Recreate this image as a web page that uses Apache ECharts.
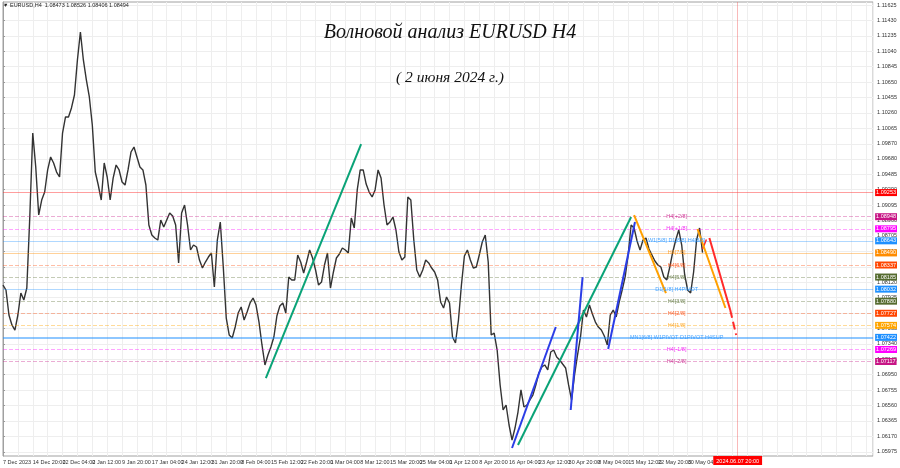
<!DOCTYPE html>
<html><head><meta charset="utf-8">
<script src="https://cdn.jsdelivr.net/npm/echarts@6/dist/echarts.min.js"></script>
<style>html,body{margin:0;padding:0;background:#fff}#c{width:900px;height:468px}</style>
</head><body><div id="c"></div>
<script>
// H4 closes (one value per ~3 bars), EURUSD, 7 Dec 2023 – 31 May 2024
const closes = [
1.08084,1.08021,1.07705,1.07579,1.07515,1.07705,1.07983,1.07895,1.08046,1.08944,
1.10006,1.09577,1.08970,1.09159,1.09260,1.09539,1.09703,1.09627,1.09513,1.09450,
1.10006,1.10209,1.10209,1.10323,1.10487,1.10930,1.11284,1.10930,1.10677,1.10462,
1.10108,1.09513,1.09349,1.09159,1.09627,1.09450,1.09159,1.09437,1.09602,1.09539,
1.09387,1.09349,1.09539,1.09766,1.09829,1.09703,1.09577,1.09539,1.09349,1.08843,
1.08717,1.08679,1.08653,1.08906,1.08818,1.08906,1.08995,1.08957,1.08843,1.08363,
1.08995,1.09096,1.08843,1.08527,1.08590,1.08565,1.08400,1.08299,1.08375,1.08438,
1.08489,1.08059,1.08653,1.08881,1.08312,1.07667,1.07452,1.07414,1.07553,1.07730,
1.07806,1.07642,1.07743,1.07857,1.07920,1.07831,1.07616,1.07326,1.07073,1.07199,
1.07300,1.07427,1.07692,1.07819,1.07857,1.07730,1.08186,1.08148,1.08148,1.08464,
1.08375,1.08236,1.08375,1.08527,1.08426,1.08274,1.08084,1.08122,1.08337,1.08489,
1.08046,1.08249,1.08426,1.08476,1.08552,1.08527,1.08489,1.08932,1.08805,1.09286,
1.09539,1.09539,1.09361,1.09260,1.09197,1.09286,1.09539,1.09437,1.09096,1.08843,
1.08881,1.08944,1.08780,1.08502,1.08400,1.08438,1.09197,1.09159,1.08653,1.08274,
1.08186,1.08274,1.08400,1.08363,1.08299,1.08249,1.08148,1.07869,1.07793,1.07933,
1.07857,1.07427,1.07351,1.07642,1.08084,1.08451,1.08527,1.08400,1.08299,1.08312,
1.08464,1.08628,1.08717,1.08375,1.07452,1.07477,1.07262,1.06820,1.06504,1.06567,
1.06314,1.06124,1.06276,1.06478,1.06757,1.06542,1.06567,1.06630,1.06693,1.06820,
1.06972,1.07047,1.07073,1.07010,1.07237,1.07262,1.07174,1.07136,1.07085,1.07035,
1.06820,1.06630,1.06946,1.07199,1.07427,1.07768,1.07680,1.07831,1.07718,1.07616,
1.07553,1.07515,1.07439,1.07326,1.07705,1.07768,1.07680,1.07869,1.08021,1.08186,
1.08464,1.08843,1.08805,1.08641,1.08527,1.08653,1.08679,1.08540,1.08464,1.08388,
1.08337,1.08312,1.08186,1.08148,1.08312,1.08502,1.08653,1.08780,1.08590,1.08211,
1.08021,1.07983,1.08249,1.08653,1.08805,1.08494
];
const timeLabels = ['7 Dec 2023','14 Dec 20:00','22 Dec 04:00','2 Jan 12:00','9 Jan 20:00','17 Jan 04:00',
'24 Jan 12:00','31 Jan 20:00','8 Feb 04:00','15 Feb 12:00','22 Feb 20:00','1 Mar 04:00','8 Mar 12:00',
'15 Mar 20:00','25 Mar 04:00','1 Apr 12:00','8 Apr 20:00','16 Apr 04:00','23 Apr 12:00','30 Apr 20:00',
'8 May 04:00','15 May 12:00','22 May 20:00','30 May 04:00'];
const priceTicks = ['1.11625','1.11430','1.11235','1.11040','1.10845','1.10650','1.10455','1.10260','1.10065',
'1.09870','1.09680','1.09485','1.09290','1.09095','1.08900','1.08705','1.08510','1.08315','1.08120','1.07925',
'1.07730','1.07535','1.07340','1.07145','1.06950','1.06755','1.06560','1.06365','1.06170','1.05975'];
const levelValues = [1.09253,1.08948,1.08795,1.08643,1.08490,1.08337,1.08185,1.08032,1.07880,1.07727,1.07574,1.07422,1.07269,1.07117];
const levelTexts = ['','H4[+2/8]','H4[+1/8]','W1[5/8] D1[8/8] H4[8/8]','H4[7/8]','H4[6/8]','H4[5/8]','D1[1/8] H4PIVOT',
'H4[3/8]','H4[2/8]','H4[1/8]','MN1[6/8] W1PIVOT D1PIVOT H4SUP','H4[-1/8]','H4[-2/8]'];
const headerText = '▼ EURUSD,H4  1.08473 1.08526 1.08406 1.08494';
const titleText = 'Волновой анализ EURUSD H4';
const subTitleText = '( 2 июня 2024 г.)';
// wave lines: [bar group index, price]
const greenWave1 = [[88.3,1.06908],[120.3,1.09867]];
const greenWave2 = [[173,1.06061],[211,1.08944]];
const blueWave1 = [[171,1.06023],[185.7,1.07553]];
const blueWave2 = [[190.7,1.06504],[194.7,1.08185]];
const blueWave3 = [[203.3,1.07275],[212.3,1.08881]];
const orangeWave1 = [[212,1.08969],[222.7,1.07983]];
const orangeWave2 = [[233.3,1.08792],[242.7,1.07793]];
const redForecast = [[237.3,1.08679],[244.3,1.07768]];
const redForecastDashed = [[244.3,1.07768],[246.3,1.07452]];
const redUpTick = [[235,1.08539],[236.3,1.08660]];
const cursorIndex = 246.8;
const cursorLabel = '2024.06.07 20:00';
const levelTextIndex = 226.3;

// styles (kept apart from data)
const levelStyles = [
 {line:'rgba(255,40,40,0.45)', type:'solid', box:'#ff0000', text:'#ff0000'},
 {line:'rgba(199,21,133,0.35)', type:'dashed', box:'#c71585', text:'#c71585'},
 {line:'rgba(255,0,255,0.35)', type:'dashed', box:'#ff00ff', text:'#ee00ee'},
 {line:'rgba(30,144,255,0.35)', type:'solid', box:'#1e90ff', text:'#1e90ff'},
 {line:'rgba(255,140,0,0.4)', type:'solid', box:'#ff8c00', text:'#ff8c00'},
 {line:'rgba(255,69,0,0.35)', type:'dashed', box:'#ff4500', text:'#ff4500'},
 {line:'rgba(85,107,47,0.35)', type:'dashed', box:'#556b2f', text:'#556b2f'},
 {line:'rgba(30,144,255,0.35)', type:'solid', box:'#1e90ff', text:'#1e90ff'},
 {line:'rgba(85,107,47,0.35)', type:'dashed', box:'#556b2f', text:'#556b2f'},
 {line:'rgba(255,69,0,0.35)', type:'dashed', box:'#ff4500', text:'#ff4500'},
 {line:'rgba(255,165,0,0.4)', type:'dashed', box:'#ffa500', text:'#ff9900'},
 {line:'rgba(30,144,255,0.5)', type:'solid', box:'#1e90ff', text:'#1e90ff', width:2},
 {line:'rgba(255,0,255,0.35)', type:'dashed', box:'#ff00ff', text:'#ee00ee'},
 {line:'rgba(199,21,133,0.35)', type:'dashed', box:'#c71585', text:'#c71585'}
];
const smallFont = {fontFamily:'Liberation Sans', fontSize:5.5};

function waveSeries(data, color){
  return {type:'line', data:data, showSymbol:false, symbol:'none', silent:true, z:6,
    lineStyle:{color:color, width:2}, animation:false};
}

const chart = echarts.init(document.getElementById('c'), null, {renderer:'canvas'});
chart.setOption({
  animation:false,
  backgroundColor:'#ffffff',
  title:[
    {text:titleText, left:'center', top:18, textStyle:{fontFamily:'Liberation Serif', fontStyle:'italic', fontWeight:'normal', fontSize:20, color:'#111'}},
    {text:subTitleText, left:'center', top:65, textStyle:{fontFamily:'Liberation Serif', fontStyle:'italic', fontWeight:'normal', fontSize:15.5, color:'#111'}},
    {text:headerText, left:1, top:1, padding:[1,2], textStyle:Object.assign({color:'#222', fontWeight:'normal'}, smallFont)}
  ],
  grid:{left:0, right:23, top:2, bottom:12, show:true, borderColor:'#a0a0a0', borderWidth:1},
  xAxis:{type:'value', min:0, max:292.3, interval:5,
    axisLine:{show:false}, axisTick:{show:false},
    splitLine:{show:true, lineStyle:{color:'#eeeeee', width:1}},
    axisLabel:Object.assign({color:'#333', align:'left', margin:3, showMaxLabel:false,
      formatter:(v)=>{const k=Math.round(v); if(k%10!==0) return ''; const j=k/10; return j<timeLabels.length ? timeLabels[j] : '';}}, smallFont)},
  yAxis:{type:'value', position:'right', min:1.05922, max:1.11663,
    axisLine:{show:true, lineStyle:{color:'#a0a0a0'}},
    axisTick:{show:true, length:2, lineStyle:{color:'#999'}, customValues:priceTicks.map(Number)},
    splitLine:{show:true, lineStyle:{color:'#eeeeee', width:1}},
    axisLabel:Object.assign({color:'#333', margin:4, customValues:priceTicks.map(Number),
      formatter:(v)=>{let best=priceTicks[0], d=1; priceTicks.forEach(t=>{const e=Math.abs(Number(t)-v); if(e<d){d=e;best=t;}}); return best;}}, smallFont)},
  series:[
    {type:'line', name:'levels', data:[], silent:true, z:2,
      markLine:{silent:true, symbol:['none','none'], animation:false, precision:5,
        data: levelValues.map((v,i)=>({yAxis:v,
          lineStyle:{color:levelStyles[i].line, type:levelStyles[i].type, width:levelStyles[i].width||1},
          label:Object.assign({show:true, position:'end', distance:2, formatter:v.toFixed(5), color:'#fff',
            backgroundColor:levelStyles[i].box, padding:[1,1,0,1], lineHeight:6}, smallFont)}))
          .concat([{xAxis:cursorIndex, lineStyle:{color:'rgba(240,80,80,0.4)', type:'solid', width:1},
            label:Object.assign({show:true, position:'start', distance:0, formatter:cursorLabel, color:'#fff',
              backgroundColor:'#ff0000', padding:[2,3,1,3], lineHeight:6}, smallFont)}])
      }
    },
    {type:'line', name:'EURUSD', data:closes.map((c,i)=>[i,c]), showSymbol:false, symbol:'none', silent:true, z:3,
      lineStyle:{color:'#333333', width:1.4}},
    {type:'scatter', symbolSize:0, silent:true, z:7,
      data: levelValues.map((v,i)=>({value:[levelTextIndex, v], name:levelTexts[i],
        label:{color:levelStyles[i].text}})).filter(d=>d.name),
      label:Object.assign({show:true, position:'inside', formatter:(p)=>p.name}, smallFont)},
    waveSeries(greenWave1,'#0aa377'),
    waveSeries(greenWave2,'#0aa377'),
    waveSeries(blueWave1,'#2b3de6'),
    waveSeries(blueWave2,'#2b3de6'),
    waveSeries(blueWave3,'#2b3de6'),
    waveSeries(orangeWave1,'#ffa000'),
    waveSeries(orangeWave2,'#ffa000'),
    {type:'line', data:[], silent:true, z:8,
      markLine:{silent:true, symbol:['none','arrow'], symbolSize:[0,7], animation:false, precision:5, label:{show:false},
        data:[
          [{coord:redForecast[0], lineStyle:{color:'#ff2a2a', width:2, type:'solid'}},{coord:redForecast[1]}],
          [{coord:redForecastDashed[0], lineStyle:{color:'#ff2a2a', width:2, type:'dashed'}},{coord:redForecastDashed[1]}],
          [{coord:redUpTick[0], lineStyle:{color:'#ff2a2a', width:1.5, type:'solid'}},{coord:redUpTick[1]}]
        ]}}
  ]
});
</script></body></html>
